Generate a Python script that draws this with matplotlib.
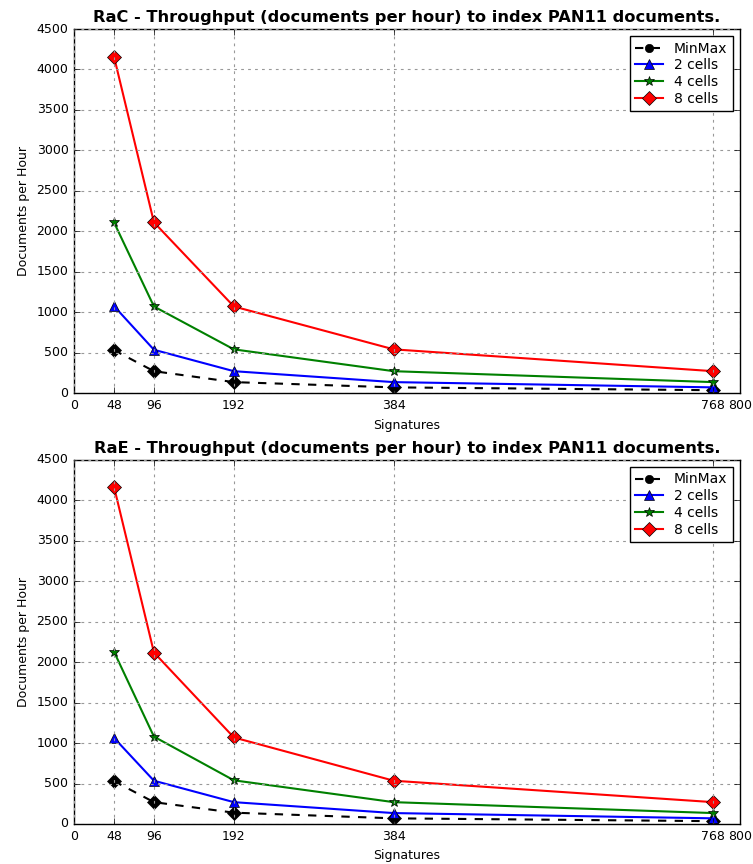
import matplotlib
matplotlib.use('Agg')
import matplotlib.pyplot as plt

# Dados
assinaturas = [48, 96, 192, 384, 768]
ticks_x = [0, 48, 96, 192, 384, 768, 800]

# RaC
rac_minmax = [530, 270, 135, 70, 35]
rac_2cells = [1075, 535, 270, 135, 70]
rac_4cells = [2110, 1070, 540, 270, 135]
rac_8cells = [4160, 2110, 1070, 540, 270]

# RaE
rae_minmax = [530, 270, 140, 70, 35]
rae_2cells = [1065, 535, 270, 135, 70]
rae_4cells = [2130, 1080, 540, 270, 135]
rae_8cells = [4170, 2120, 1070, 535, 270]

plt.style.use('classic')
plt.rcParams['font.size'] = 9

fig = plt.figure(figsize=(7.53, 8.64), dpi=100)
ax1 = fig.add_axes([0.0983, 0.5451, 0.8845, 0.4213])
ax2 = fig.add_axes([0.0983, 0.0463, 0.8845, 0.4213])


def desenha(ax, titulo, minmax, c2, c4, c8):
    ax.plot(assinaturas, minmax, 'k--o', lw=1.5, label='MinMax')
    ax.plot(assinaturas, minmax, 'kD', ms=7, ls='none')
    ax.plot(assinaturas, c2, 'b-^', lw=1.5, ms=7, label='2 cells')
    ax.plot(assinaturas, c4, 'g-*', lw=1.5, ms=7, label='4 cells')
    ax.plot(assinaturas, c8, 'r-D', lw=1.5, ms=7, label='8 cells')
    ax.set_xlim(0, 800)
    ax.set_ylim(0, 4500)
    ax.set_xticks(ticks_x)
    ax.set_yticks(range(0, 4501, 500))
    ax.grid(True, color='0.6', linestyle=(0, (2, 3)), linewidth=0.8)
    ax.set_title(titulo, fontweight='bold', fontsize=11.7)
    ax.set_xlabel('Signatures')
    ax.set_ylabel('Documents per Hour')
    ax.legend(loc='upper right', numpoints=1, fontsize=10, labelspacing=0.2)


desenha(ax1, 'RaC - Throughput (documents per hour) to index PAN11 documents.',
        rac_minmax, rac_2cells, rac_4cells, rac_8cells)
desenha(ax2, 'RaE - Throughput (documents per hour) to index PAN11 documents.',
        rae_minmax, rae_2cells, rae_4cells, rae_8cells)

fig.savefig('out.png', dpi=100)
